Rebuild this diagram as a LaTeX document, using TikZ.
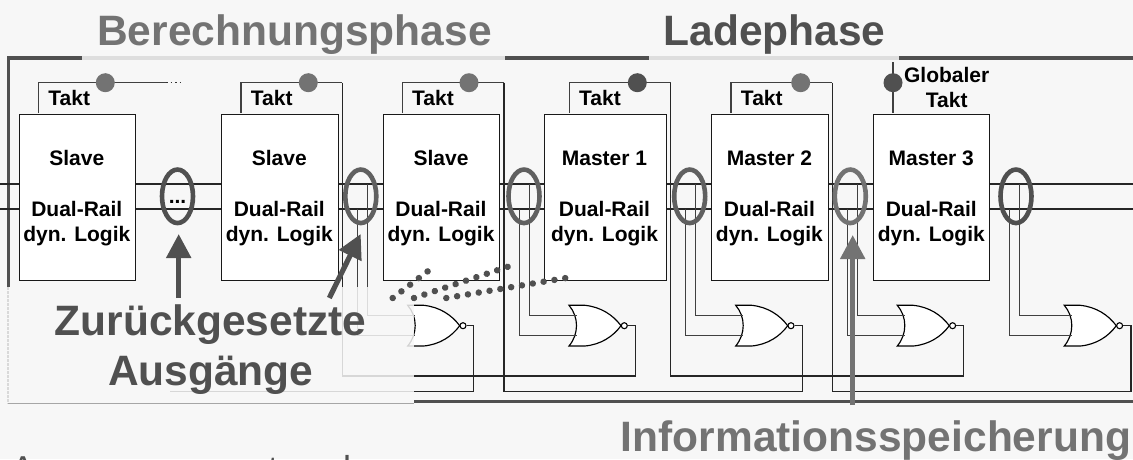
\documentclass[tikz,border=0pt]{standalone}
\usepackage{fontspec}
\setmainfont{Liberation Sans}
\usetikzlibrary{arrows.meta,shapes.geometric}
\definecolor{bgc}{HTML}{F7F7F7}
\definecolor{dk}{HTML}{505050}
\definecolor{md}{HTML}{737373}
\definecolor{el}{HTML}{606060}
\newcommand{\bigfont}{\fontsize{42.5}{42.5}\selectfont\bfseries}
\newcommand{\smfont}{\fontsize{21}{26}\selectfont\bfseries}
\tikzset{
  x=1pt,y=-1pt,
  wire/.style={draw=black!85,line width=1.1pt},
  gwire/.style={draw=black!75,line width=1.2pt},
  stage/.style={draw=black!90,line width=1.15pt,fill=white,minimum width=#1,minimum height=166.5pt,inner sep=0pt,anchor=north west},
  ring/.style={draw=#1,line width=4.6pt,ellipse,minimum width=31pt,minimum height=53.5pt,inner sep=0pt},
  clk/.style={circle,fill=#1,minimum size=19pt,inner sep=0pt},
  big/.style={font=\bigfont,inner sep=0pt,anchor=base,text=#1},
  lab/.style={font=\smfont,inner sep=0pt,anchor=base,text=black},
  cut/.style={font=\fontsize{36}{36}\selectfont,inner sep=0pt,anchor=base,text=dk},
  frame/.style={draw=dk,line width=3.5pt},
  framefade/.style={draw=black!13,line width=3.5pt},
  callout/.style={draw=#1,line width=5.2pt,-{Triangle[length=24pt,width=24pt]}},
  dotrow/.style={draw=dk,line width=6.5pt,line cap=round,dash pattern=on 0.01pt off #1},
}
\newcommand{\norgate}[2]{% name, left x
  \begin{scope}[shift={(#2,0)}]
    \path[fill=white,draw=black,line width=1.15pt]
      (0,305.3) -- (16,305.3) .. controls (32,307) and (44,315) .. (52,325.7)
      .. controls (44,336.5) and (32,344.5) .. (16,346) -- (0,346)
      .. controls (10,334) and (10,317) .. (0,305.3) -- cycle;
    \node[circle,draw=black,fill=white,line width=1.1pt,minimum size=6pt,inner sep=0pt] (#1o) at (55.3,325.7) {};
    \coordinate (#1a) at (7.6,315.7);
    \coordinate (#1b) at (7.6,335.7);
  \end{scope}}
\begin{document}
\begin{tikzpicture}
\useasboundingbox[fill=bgc] (0,0) rectangle (1133,459);
\clip (0,0) rectangle (1133,459);

% frame
\coordinate (ftl) at (8.7,58);
\coordinate (fa) at (82,58);
\coordinate (fb) at (505.3,58);
\coordinate (fc) at (649.3,58);
\coordinate (fd) at (899.3,58);
\coordinate (fe) at (1133,58);
\coordinate (fl) at (8.7,287);
\coordinate (fg) at (414,401.5);
\coordinate (fh) at (1133,401.5);
\draw[frame,line cap=butt] (fa) -- (ftl) -- (fl);
\draw[framefade] (fa) -- (fb);
\draw[frame] (fb) -- (fc);
\draw[framefade] (fc) -- (fd);
\draw[frame] (fd) -- (fe);
\draw[frame] (fg) -- (fh);

% rails
\coordinate (r0t) at (0,184); \coordinate (r0b) at (0,209);
\coordinate (r1t) at (1133,184); \coordinate (r1b) at (1133,209);
\draw[wire] (r0t) -- (r1t);
\draw[wire] (r0b) -- (r1b);

% NOR gates
\norgate{n1}{407.7}
\norgate{n2}{569}
\norgate{n3}{735.7}
\norgate{n4}{897.3}
\norgate{n5}{1064.3}

% rail taps into the gates
\foreach \n/\xa/\xb in {1/367.3/357.3,2/529.3/519.3,3/695.7/685.7,4/857.7/847.7,5/1019.7/1009.7}{
  \coordinate (ta\n) at (\xa,184);
  \coordinate (tb\n) at (\xb,209);
  \draw[gwire] (ta\n) |- (n\n a);
  \draw[gwire] (tb\n) |- (n\n b);
}

% clock loops
\coordinate (cl1) at (38.7,113); \coordinate (cr1) at (166,82.7); \coordinate (cd1) at (183,82.7);
\coordinate (cl2) at (241,113);  \coordinate (cr2) at (342.3,82.7);
\coordinate (cl3) at (402.7,113); \coordinate (cr3) at (504,82.7);
\coordinate (cl4) at (569.3,113); \coordinate (cr4) at (670.7,82.7);
\coordinate (cl5) at (731,113);  \coordinate (cr5) at (832.3,82.7);
\draw[gwire] (cl1) |- (cr1);
\draw[gwire] (cl2) |- (cr2);
\draw[gwire] (cl3) |- (cr3);
\draw[gwire] (cl4) |- (cr4);
\draw[gwire] (cl5) |- (cr5);
\draw[draw=black!80,line width=1pt,dash pattern=on 1.5pt off 3pt] (cr1) -- (cd1);

% feedback loops from NOR outputs to clock rails
\coordinate (f2) at (342.3,376);
\coordinate (f3) at (504,391.3);
\coordinate (f4) at (670.7,376);
\coordinate (f5) at (832.3,391.3);
\coordinate (f1) at (170,391.3);
\coordinate (o1) at (473.7,325.7);
\coordinate (o2) at (635.3,325.7);
\coordinate (o3) at (802.3,325.7);
\coordinate (o4) at (963.7,325.7);
\coordinate (o5) at (1131,325.7);
\draw[wire] (n1o) -- (o1) |- (f1);
\draw[wire] (cr2) -- (f2) -| (o2) -- (n2o);
\draw[wire] (cr3) -- (f3) -| (o3) -- (n3o);
\draw[wire] (cr4) -- (f4) -| (o4) -- (n4o);
\draw[wire] (cr5) -- (f5) -| (o5) -- (n5o);

% stages
\node[stage=116.5pt] (b1) at (18.5,113.5) {};
\node[stage=116.5pt] (b2) at (221,113.5) {};
\node[stage=116.5pt] (b3) at (382.7,113.5) {};
\node[stage=121.4pt] (b4) at (544.3,113.5) {};
\node[stage=116.7pt] (b5) at (711,113.5) {};
\node[stage=116pt] (b6) at (873.3,113.5) {};

% global clock
\coordinate (gt) at (893,62);
\coordinate (gb) at (893,113);
\draw[gwire] (gt) -- (gb);

% clock dots
\node[clk=md] (c1) at (105.3,82.7) {};
\node[clk=md] (c2) at (308.3,82.7) {};
\node[clk=md] (c3) at (469,82.7) {};
\node[clk=dk] (c4) at (637.3,82.7) {};
\node[clk=md] (c5) at (800.7,82.7) {};
\node[clk=dk] (c6) at (893,82.7) {};

% box labels
\foreach \cx/\t in {76.8/Slave,279.3/Slave,441/Slave,604.5/Master 1,769.4/Master 2,931.3/Master 3}{
  \node[lab] at (\cx,165) {\t};
}
\foreach \cx in {76.8,279.3,441,604.5,769.4,931.3}{
  \node[lab] at (\cx,216) {Dual-Rail};
  \node[lab] at (\cx,241.7) {dyn. Logik};
}
\foreach \cx in {69.2,271.7,433,600,761.8}{
  \node[lab] at (\cx,105) {Takt};
}
\node[lab] at (946.7,82) {Globaler};
\node[lab] at (946.7,107) {Takt};

% rings
\node[ring=dk] (e1) at (177.5,196.3) {};
\node[ring=el] (e2) at (360.8,196.3) {};
\node[ring=el] (e3) at (524,196.3) {};
\node[ring=el] (e4) at (689.7,196.3) {};
\node[ring=md] (e5) at (850.3,196.3) {};
\node[ring=dk] (e6) at (1016,196.3) {};
\node[lab] at (177.5,203) {...};

% fading veil
\fill[bgc,fill opacity=0.85] (0,287) rectangle (414,404);
\coordinate (vb) at (8,403.5);
\coordinate (vt) at (8,287);
\coordinate (vr) at (414,403.5);
\draw[draw=black!15,line width=1.5pt,dash pattern=on 3pt off 1pt] (vt) -- (vb);
\draw[draw=black!35,line width=1.2pt] (vb) -- (vr);

% dotted rows
\coordinate (da0) at (392.7,298); \coordinate (da1) at (428,271.1);
\coordinate (db0) at (414,298);   \coordinate (db1) at (508.5,266.5);
\coordinate (dc0) at (446.3,298); \coordinate (dc1) at (565.8,278);
\draw[dotrow=10.95pt] (da0) -- (da1);
\draw[dotrow=10.95pt] (db0) -- (db1);
\draw[dotrow=10.95pt] (dc0) -- (dc1);

% titles
\node[big=md] (tb) at (294.5,45) {Berechnungsphase};
\node[big=dk] (tl) at (774.5,45) {Ladephase};
\node[big=dk] (za) at (210.5,335) {Zurückgesetzte};
\node[big=dk] (zb) at (210.8,385.7) {Ausgänge};
\node[big=md] (inf) at (876,451.7) {Informationsspeicherung};
\node[cut] (ca) at (23,481) {A};
\node[cut] (ct) at (273,481) {t};
\node[cut] (cl) at (347,481) {l};

% callouts
\coordinate (a1s) at (178.7,298); \coordinate (a1e) at (178.7,234);
\coordinate (a2s) at (329.3,298); \coordinate (a2e) at (360.7,234);
\coordinate (a3s) at (852.7,405); \coordinate (a3e) at (852.7,235);
\draw[callout=dk] (a1s) -- (a1e);
\draw[callout=dk] (a2s) -- (a2e);
\draw[callout=md] (a3s) -- (a3e);
\end{tikzpicture}
\end{document}
